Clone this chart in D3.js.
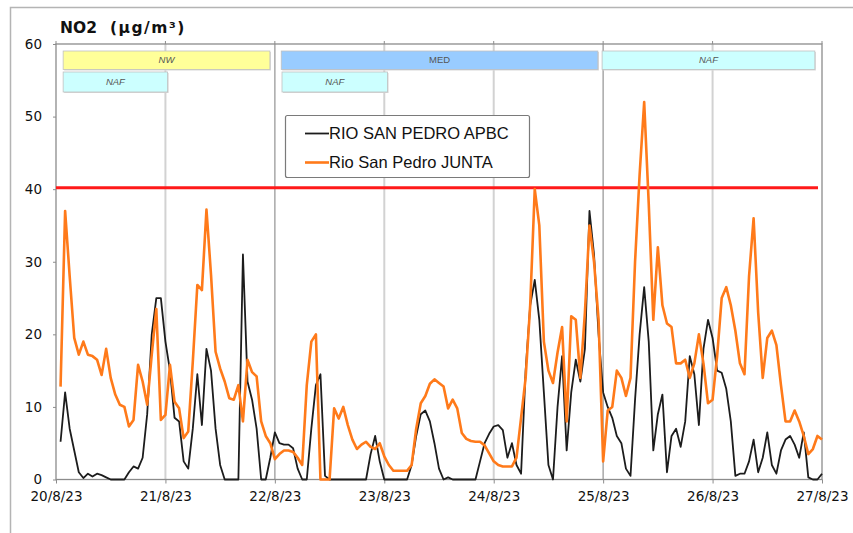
<!DOCTYPE html>
<html><head><meta charset="utf-8">
<script src="https://cdn.jsdelivr.net/npm/d3@7"></script>
<style>
html,body{margin:0;padding:0;background:#fff;}
svg{display:block;}
</style></head>
<body>
<svg id="chart" width="853" height="533"></svg>
<script>
// ---------- DATA ----------
const title = "NO2";
const unitLabel = "(µg/m³)";
const startDay = [2023, 7, 20]; // 20/8/23, hourly values from 01:00
const seriesNames = ["RIO SAN PEDRO APBC", "Rio San Pedro JUNTA"];
const apbc = [
5.2,12,7,4,1,0.2,0.8,0.4,0.8,0.6,0.3,0,0,0,0,1,1.8,1.5,3,9,20,25,25,19,
15,8.5,8,2.5,1.5,7,14.5,7.5,18,15,7,2,0,0,0,0,31,13.5,11,7,0,0,3,6.5,
5,4.8,4.8,4.3,1.5,0,0,7,13,14.5,0.5,0,0,0,0,0,0,0,0,0,3.5,6,2.5,0,
0,0,0,0,0,2,6,9,9.5,8,5,1.5,0,0.3,0,0,0,0,0,0,2.5,5,6.3,7.3,
7.5,6.8,3,5,2,0.8,15,24,27.5,22,12,2,0,10,17,4,12,16.5,13.5,18,37,31,20,12,
10,8.5,6,5,1.5,0.5,11,20,26.5,19,4,9,11.7,1,6,7,4.5,8,17,14.5,7.5,18,22,19.5,
15,14.7,12.5,8,0.5,0.8,0.8,2.5,5.5,1,3,6.5,2,0.8,4,5.5,6,4.8,3,6.5,0.3,0,0,0.8
];
const junta = [
12.8,37,28,19.5,17.2,19,17.2,17,16.5,14.4,18,14,11.7,10.3,10,7.3,8.2,15.8,13.5,10.3,17.2,23.5,8.2,8.9,
15.8,10.7,9.8,5.7,6.6,16.2,26.8,26.1,37.2,28.2,17.6,15.3,13.5,11.2,11,13,8,16.5,14.8,14.2,8,6,5,2.8,
3.5,4,4,3.8,3,2,13,19,20,0,0,0,9.8,8.4,10,7.5,5.5,4.2,4.8,5.2,4.5,4.2,5,3.2,
2,1.2,1.2,1.2,1.2,2,7,10.5,11.5,13.2,13.8,13.3,12.8,9.8,11,9.8,6.4,5.6,5.3,5.2,5.2,4.7,3.6,2.5,
2,1.8,1.8,1.8,3,8.5,14,24,40,35,19,15,13.3,17.5,21,8,22.5,22,14,23,35,30,22,2.5,
9.5,10,15,14,11.5,14,30,42,52,38,22,32,24,21.5,21,16,16,16.5,14,16,20,16,10.5,11,
17,25,26.5,24,20.5,16,14.5,28,36,23,14,19.5,20.5,18.5,13,8,8,9.5,8,6,3.5,4.2,6,5.5
];
const limitValue = 40;
const yTicks = [0, 10, 20, 30, 40, 50, 60];
const xTickDays = [20, 21, 22, 23, 24, 25, 26, 27];
// air-mass bands: label, start / end (day of August, fractional), row
const bandLabels = ["NW", "MED", "NAF", "NAF", "NAF"];
const bandStart = [20.065, 22.058, 24.99, 20.065, 22.065];
const bandEnd   = [21.955, 24.952, 26.935, 21.02, 23.03];
const bandRow   = [0, 0, 0, 1, 1];
const bandColors = {"NW": "#ffff99", "MED": "#99ccff", "NAF": "#ccffff"};

// ---------- LAYOUT ----------
const svg = d3.select("#chart");
const L = 56, R = 822, T = 44, B = 479.5;
const day = d => new Date(startDay[0], startDay[1], d);
const dayFrac = d => new Date(startDay[0], startDay[1], Math.floor(d), 0, Math.round((d - Math.floor(d)) * 1440));
const times = apbc.map((_, i) => new Date(startDay[0], startDay[1], startDay[2], i + 1));

const x = d3.scaleTime().domain([day(20), day(27)]).range([L, R]);
const y = d3.scaleLinear().domain([0, 60]).range([B, T]);

svg.append("rect").attr("width", 853).attr("height", 533).attr("fill", "#fff");
// outer frame (partly visible)
svg.append("path").attr("d", "M10.5,540 L10.5,7.5 L860,7.5")
  .attr("fill", "none").attr("stroke", "#b4b4b4").attr("stroke-width", 1.5);

// vertical gridlines
const grid = svg.append("g");
xTickDays.slice(1, -1).forEach(dd => {
  const strong = (dd === 22 || dd === 25);
  grid.append("line")
    .attr("x1", x(day(dd))).attr("x2", x(day(dd)))
    .attr("y1", T).attr("y2", B)
    .attr("stroke", strong ? "#a8a8a8" : "#d2d2d2")
    .attr("stroke-width", strong ? 1.5 : 2);
});

// plot frame
svg.append("rect").attr("x", L).attr("y", T).attr("width", R - L).attr("height", B - T)
  .attr("fill", "none").attr("stroke", "#8c8c8c").attr("stroke-width", 1.3);

// axes
const fontAxis = "'DejaVu Sans', Verdana, sans-serif";
const yAxis = svg.append("g").attr("transform", `translate(${L},0)`)
  .call(d3.axisLeft(y).tickValues(yTicks).tickSize(3).tickPadding(11).tickFormat(d3.format("d")));
const xAxis = svg.append("g").attr("transform", `translate(0,${B})`)
  .call(d3.axisBottom(x).tickValues(xTickDays.map(day)).tickSize(4).tickPadding(8)
    .tickFormat(d3.timeFormat("%-d/%-m/%y")));
[yAxis, xAxis].forEach(a => {
  a.select(".domain").remove();
  a.selectAll("line").attr("stroke", "#8c8c8c");
  a.selectAll("text").attr("fill", "#111").style("font-family", fontAxis).style("font-size", "13.5px");
});
// small ticks on top edge
svg.append("g").selectAll("line").data(xTickDays.map(day)).join("line")
  .attr("x1", d => x(d)).attr("x2", d => x(d)).attr("y1", T - 3).attr("y2", T)
  .attr("stroke", "#8c8c8c");

// bands
const bandG = svg.append("g");
const rowY = [51, 72], rowH = [18.5, 20];
bandLabels.forEach((lab, i) => {
  const x0 = x(dayFrac(bandStart[i]));
  const x1 = x(dayFrac(bandEnd[i]));
  const r = bandRow[i];
  bandG.append("rect").attr("x", x0 + 1).attr("y", rowY[r] + 1).attr("width", x1 - x0).attr("height", rowH[r])
    .attr("fill", "#d8d8d8");
  bandG.append("rect").attr("x", x0).attr("y", rowY[r]).attr("width", x1 - x0).attr("height", rowH[r])
    .attr("fill", bandColors[lab]).attr("stroke", "#c0c0c0").attr("stroke-width", 0.8);
  bandG.append("text").attr("x", (x0 + x1) / 2).attr("y", rowY[r] + rowH[r] / 2 + 3.2)
    .attr("text-anchor", "middle").attr("fill", "#555")
    .style("font-family", "'Liberation Sans', Arial, sans-serif").style("font-size", "9.5px")
    .style("font-style", lab === "MED" ? "normal" : "italic")
    .text(lab);
});

// limit line
svg.append("line").attr("x1", L).attr("x2", R - 4).attr("y1", y(limitValue) - 1.5).attr("y2", y(limitValue) - 1.5)
  .attr("stroke", "#ff1a1a").attr("stroke-width", 3);

// series
const line = d3.line().x((d, i) => x(times[i])).y(d => y(d));
svg.append("path").datum(apbc).attr("d", line)
  .attr("fill", "none").attr("stroke", "#1c1c1c").attr("stroke-width", 1.8).attr("stroke-linejoin", "round");
svg.append("path").datum(junta).attr("d", line)
  .attr("fill", "none").attr("stroke", "#ff7a1a").attr("stroke-width", 2.6).attr("stroke-linejoin", "round");

// legend
const lg = svg.append("g");
lg.append("rect").attr("x", 285.5).attr("y", 115.5).attr("width", 244).attr("height", 62).attr("rx", 2)
  .attr("fill", "#fff").attr("stroke", "#7a7a7a").attr("stroke-width", 1.2);
const legColors = ["#1c1c1c", "#ff7a1a"], legW = [1.8, 2.6], legY = [133.5, 162.5];
seriesNames.forEach((n, i) => {
  lg.append("line").attr("x1", 305).attr("x2", 329).attr("y1", legY[i]).attr("y2", legY[i])
    .attr("stroke", legColors[i]).attr("stroke-width", legW[i]);
  lg.append("text").attr("x", 329).attr("y", legY[i] + 5.5).attr("fill", "#111")
    .style("font-family", "'Liberation Sans', Arial, sans-serif").style("font-size", "16.5px")
    .text(n);
});

// title
const tf = "'DejaVu Sans', Verdana, sans-serif";
svg.append("text").attr("x", 60).attr("y", 33).attr("fill", "#111")
  .style("font-family", tf).style("font-weight", "bold").style("font-size", "15.5px").text(title);
svg.append("text").attr("x", 110).attr("y", 33).attr("fill", "#111")
  .style("font-family", tf).style("font-weight", "bold").style("font-size", "15.5px")
  .style("letter-spacing", "1.5px").text(unitLabel);
</script>
</body></html>
